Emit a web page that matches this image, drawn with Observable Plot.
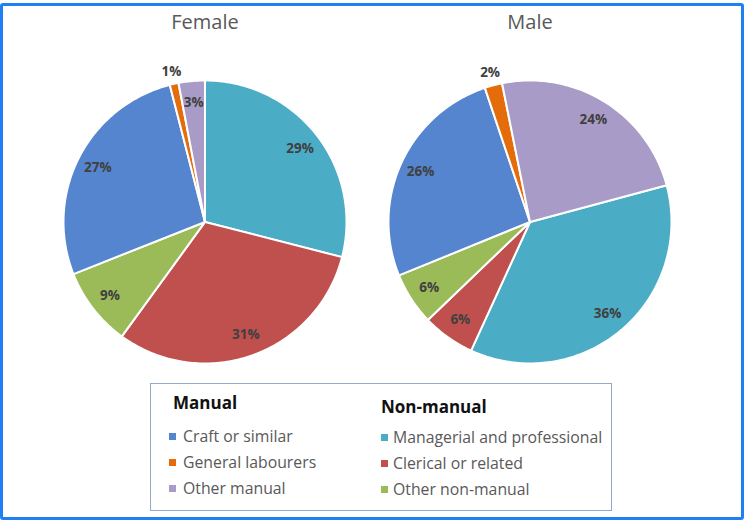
<!DOCTYPE html>
<html><head><meta charset="utf-8">
<script src="https://cdn.jsdelivr.net/npm/d3@7"></script>
<script src="https://cdn.jsdelivr.net/npm/@observablehq/plot@0.6"></script>
<style>
body{margin:0;background:#fff;width:748px;height:521px;position:relative;overflow:hidden;font-family:"Open Sans",sans-serif}
#chart{position:absolute;left:0;top:0}
#frame{position:absolute;left:0;top:3px;width:744px;height:517px;box-sizing:border-box;border:3.5px solid #1f80f5;border-radius:3px;pointer-events:none}
#legend{position:absolute;left:150px;top:383px;width:462px;height:128px;box-sizing:border-box;border:1.5px solid #97a9c9}
.hd{position:absolute;font-weight:bold;font-size:17px;color:#111;line-height:20px;white-space:nowrap}
.it{position:absolute;font-size:15.8px;color:#595959;line-height:20px;white-space:nowrap}
.sw{display:inline-block;width:7px;height:7px;margin-right:7px;vertical-align:middle;position:relative;top:-1px}
.r .sw{margin-right:5px}
</style></head>
<body>
<div id="chart"></div>
<div id="legend"></div>
<div id="frame"></div>
<script>
const categories = ["Managerial and professional","Clerical or related","Other non-manual","Craft or similar","General labourers","Other manual"];
const colors = ["#4bacc6","#c0504d","#9bbb59","#5585cf","#e46c0a","#a99bc8"];
const groups = ["Female","Male"];
const female = [29,31,9,27,1,3];
const male = [36,6,6,26,2,24];
const startAngles = [0, 75];
const manualItems = ["Craft or similar","General labourers","Other manual"];
const nonManualItems = ["Managerial and professional","Clerical or related","Other non-manual"];
const legendHeads = ["Manual","Non-manual"];

const valuesByGroup = [female, male];
const points = [];
const labels = [];
groups.forEach((g, gi) => {
  const vals = valuesByGroup[gi];
  const total = d3.sum(vals);
  let a = startAngles[gi];
  vals.forEach((v, i) => {
    const a0 = a, a1 = a + v / total * 360;
    const key = g + "-" + i;
    points.push({group: g, key, category: categories[i], x: 0, y: 0});
    const n = Math.max(2, Math.ceil(a1 - a0));
    for (let k = 0; k <= n; k++) {
      const t = (a0 + (a1 - a0) * k / n) * Math.PI / 180;
      points.push({group: g, key, category: categories[i], x: Math.sin(t), y: Math.cos(t)});
    }
    points.push({group: g, key, category: categories[i], x: 0, y: 0});
    const am = (a0 + a1) / 2 * Math.PI / 180;
    const r = v <= 2 ? 1.09 : 0.85;
    labels.push({group: g, x: r * Math.sin(am), y: r * Math.cos(am), label: v + "%"});
    a = a1;
  });
});

const chart = Plot.plot({
  width: 748, height: 375,
  marginLeft: 41.5, marginRight: 56.5, marginTop: 0, marginBottom: 0,
  style: {fontFamily: "'Open Sans', sans-serif", background: "transparent"},
  fx: {domain: groups, axis: null, padding: 0},
  x: {domain: [-1.1484, 1.1484], axis: null},
  y: {domain: [-1.085, 1.565], axis: null},
  color: {domain: categories, range: colors},
  marks: [
    Plot.line(points, {fx: "group", x: "x", y: "y", z: "key", fill: "category", stroke: "white", strokeWidth: 2, strokeLinejoin: "round"}),
    Plot.text(labels, {fx: "group", x: "x", y: "y", text: "label", fontWeight: "bold", fontSize: 13.5, fill: "#404040"}),
    Plot.text(groups, {fx: d => d, text: d => d, frameAnchor: "top", lineAnchor: "top", dy: 14, fontSize: 20, fill: "#595959"})
  ]
});
document.getElementById("chart").appendChild(chart);

const legend = document.getElementById("legend");
const colOf = c => colors[categories.indexOf(c)];
function addHead(text, left, top) {
  const d = document.createElement("div"); d.className = "hd"; d.textContent = text;
  d.style.left = left + "px"; d.style.top = top + "px"; legend.appendChild(d);
}
function addItem(text, left, top, cls) {
  const d = document.createElement("div"); d.className = "it " + cls;
  d.style.left = left + "px"; d.style.top = top + "px";
  const s = document.createElement("span"); s.className = "sw"; s.style.background = colOf(text);
  d.appendChild(s); d.appendChild(document.createTextNode(text)); legend.appendChild(d);
}
addHead(legendHeads[0], 22, 9);
addHead(legendHeads[1], 230, 13);
manualItems.forEach((t, i) => addItem(t, 18, 42 + i * 26, "l"));
nonManualItems.forEach((t, i) => addItem(t, 230, 43 + i * 26, "r"));
</script>
</body></html>
